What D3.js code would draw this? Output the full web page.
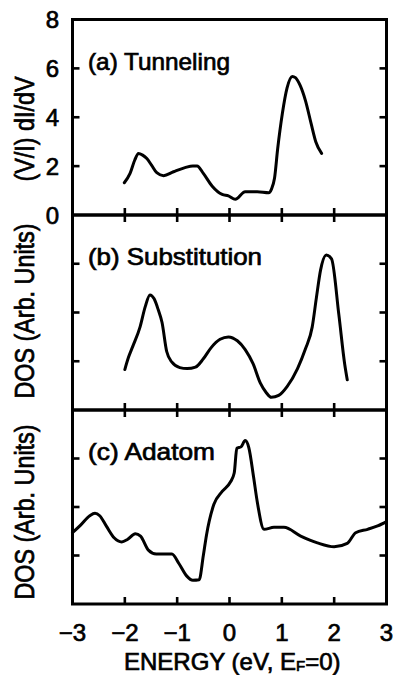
<!DOCTYPE html>
<html><head><meta charset="utf-8">
<script src="https://cdn.jsdelivr.net/npm/d3@7"></script>
<style>html,body{margin:0;padding:0;background:#fff;}svg{display:block;} text{stroke:#000;stroke-width:0.7px;}</style>
</head><body>
<script>
// ---- data ----
const xTicks = [-3, -2, -1, 0, 1, 2, 3];
const yTicksA = [0, 2, 4, 6, 8];
const yTicksDOS = [1, 2, 3];

const energyA = [-2.01,-1.90,-1.81,-1.74,-1.66,-1.58,-1.49,-1.39,-1.26,-1.07,-0.85,-0.70,-0.62,-0.50,-0.33,-0.14,-0.02,0.11,0.30,0.53,0.75,0.80,0.86,0.92,1.01,1.10,1.20,1.26,1.35,1.45,1.56,1.65,1.76];
const tunneling = [1.32,1.70,2.25,2.52,2.45,2.31,2.04,1.73,1.61,1.77,1.94,2.01,2.01,1.70,1.18,0.84,0.78,0.64,0.95,0.95,0.91,1.05,1.50,2.70,4.15,5.20,5.67,5.62,5.30,4.69,3.74,2.99,2.52];

const energyB = [-2.00,-1.93,-1.85,-1.71,-1.61,-1.52,-1.44,-1.36,-1.29,-1.20,-1.10,-0.95,-0.81,-0.65,-0.50,-0.35,-0.18,-0.02,0.15,0.30,0.45,0.59,0.70,0.80,0.94,1.10,1.30,1.45,1.58,1.66,1.74,1.85,1.95,2.09,2.20,2.25];
const substitution = [0.83,1.08,1.30,1.70,2.12,2.36,2.28,2.05,1.80,1.20,0.98,0.87,0.85,0.88,1.05,1.28,1.45,1.50,1.42,1.24,0.95,0.55,0.36,0.26,0.30,0.48,0.85,1.25,1.70,2.30,2.87,3.18,3.10,1.95,0.95,0.62];

const energyC = [-3.00,-2.85,-2.67,-2.57,-2.48,-2.35,-2.20,-2.06,-1.95,-1.80,-1.70,-1.55,-1.40,-1.10,-0.97,-0.82,-0.70,-0.58,-0.50,-0.44,-0.30,-0.14,0.02,0.09,0.14,0.22,0.30,0.37,0.46,0.53,0.66,0.85,1.04,1.36,1.68,2.00,2.25,2.41,2.64,2.83,3.00];
const adatom = [1.47,1.62,1.82,1.87,1.82,1.60,1.36,1.28,1.33,1.45,1.40,1.11,1.03,1.03,0.84,0.58,0.49,0.50,1.00,1.42,2.05,2.32,2.52,2.70,3.21,3.24,3.37,3.22,2.62,2.11,1.54,1.58,1.58,1.40,1.26,1.18,1.25,1.47,1.54,1.61,1.70];

const panelLabels = ["(a) Tunneling", "(b) Substitution", "(c) Adatom"];
const yTitles = ["(V/I) dI/dV", "DOS (Arb. Units)", "DOS (Arb. Units)"];

// ---- layout ----
const W = 395, H = 675;
const left = 72.5, right = 386.5;
const panelTops = [19.5, 215, 410];
const panelBottoms = [215, 410, 604];
const font = "'Liberation Sans', Arial, sans-serif";

const svg = d3.select("body").append("svg").attr("width", W).attr("height", H);
const x = d3.scaleLinear().domain([-3, 3]).range([left, right]);

const panels = [
  {ex: energyA, ys: tunneling, domain: [0, 8], ticks: [2,4,6], labelTicks: yTicksA, label: panelLabels[0], lw: 142, title: yTitles[0], tl: 105, tc: 129},
  {ex: energyB, ys: substitution, domain: [0, 4], ticks: yTicksDOS, labelTicks: [], label: panelLabels[1], lw: 174, title: yTitles[1], tl: 175, tc: 311},
  {ex: energyC, ys: adatom, domain: [0, 4], ticks: yTicksDOS, labelTicks: [], label: panelLabels[2], lw: 127, title: yTitles[2], tl: 175, tc: 512}
];

const tickLen = 7;
panels.forEach((p, i) => {
  const top = panelTops[i], bot = panelBottoms[i];
  const y = d3.scaleLinear().domain(p.domain).range([bot, top]);
  const g = svg.append("g");

  const innerX = xTicks.slice(1, -1);
  g.selectAll(".bt").data(innerX).enter().append("line")
    .attr("x1", d => x(d)).attr("x2", d => x(d))
    .attr("y1", bot).attr("y2", bot - tickLen)
    .attr("stroke", "#000").attr("stroke-width", 2.6);
  if (i > 0) {
    g.selectAll(".tt").data(innerX).enter().append("line")
      .attr("x1", d => x(d)).attr("x2", d => x(d))
      .attr("y1", top).attr("y2", top + tickLen)
      .attr("stroke", "#000").attr("stroke-width", 2.6);
  }
  g.selectAll(".lt").data(p.ticks).enter().append("line")
    .attr("x1", left).attr("x2", left + tickLen)
    .attr("y1", d => y(d)).attr("y2", d => y(d))
    .attr("stroke", "#000").attr("stroke-width", 2.6);
  g.selectAll(".rt").data(p.ticks).enter().append("line")
    .attr("x1", right).attr("x2", right - tickLen)
    .attr("y1", d => y(d)).attr("y2", d => y(d))
    .attr("stroke", "#000").attr("stroke-width", 2.6);

  g.append("rect").attr("x", left).attr("y", top).attr("width", right - left).attr("height", bot - top)
    .attr("fill", "none").attr("stroke", "#000").attr("stroke-width", 3);

  g.selectAll(".yl").data(p.labelTicks).enter().append("text")
    .attr("x", 59).attr("y", d => y(d) + 8.5)
    .attr("text-anchor", "end").attr("font-family", font).attr("font-size", 24)
    .attr("fill", "#000").text(d => d);

  const line = d3.line().x(d => x(d[0])).y(d => y(d[1])).curve(d3.curveMonotoneX);
  g.append("path").datum(p.ex.map((e, k) => [e, p.ys[k]]))
    .attr("d", line).attr("fill", "none").attr("stroke", "#000")
    .attr("stroke-width", 3).attr("stroke-linejoin", "round").attr("stroke-linecap", "round");

  const labelY = i === 0 ? y(6) + 1.5 : y(3) + 1.5;
  g.append("text").attr("x", 88).attr("y", labelY)
    .attr("font-family", font).attr("font-size", 24).attr("fill", "#000")
    .attr("textLength", p.lw).attr("lengthAdjust", "spacingAndGlyphs")
    .text(p.label);

  g.append("text").attr("transform", `translate(34,${p.tc}) rotate(-90)`)
    .attr("text-anchor", "middle").attr("font-family", font).attr("font-size", 27).attr("fill", "#000")
    .attr("textLength", p.tl).attr("lengthAdjust", "spacingAndGlyphs")
    .text(p.title);
});

svg.selectAll(".xl").data(xTicks).enter().append("text")
  .attr("x", d => x(d)).attr("y", 641)
  .attr("text-anchor", "middle").attr("font-family", font).attr("font-size", 24).attr("fill", "#000")
  .text(d => d < 0 ? "\u2212" + Math.abs(d) : d);

const xt = svg.append("text").attr("x", 124).attr("y", 670)
  .attr("font-family", font).attr("font-size", 24).attr("fill", "#000");
xt.append("tspan").text("ENERGY (eV, E");
xt.append("tspan").attr("font-size", 15).attr("dy", 1).text("F");
xt.append("tspan").attr("dy", -1).text("=0)");
</script>
</body></html>
